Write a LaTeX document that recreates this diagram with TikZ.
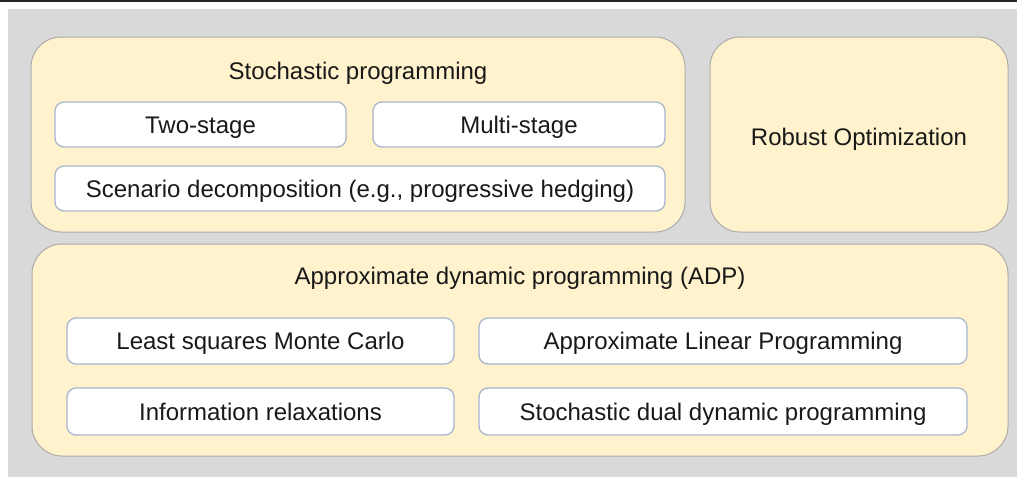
\documentclass[tikz,border=0pt]{standalone}
\usepackage{fontspec}
\setmainfont{Liberation Sans}

\definecolor{panelgray}{HTML}{D9D9D9}
\definecolor{groupfill}{HTML}{FFF2CC}
\definecolor{groupline}{HTML}{ABABAB}
\definecolor{itemline}{HTML}{A8B6CF}

\begin{document}
\begin{tikzpicture}[x = 1pt, y = -1pt,
    group/.style = {draw = groupline, fill = groupfill, line width = 1pt, rounded corners = 30pt, inner sep = 0pt},
    item/.style = {draw = itemline, fill = white, line width = 1.3pt, rounded corners = 9pt, inner sep = 0pt},
    label/.style = {font = \fontsize{24}{28}\selectfont, text = black!90, text height = 17.2pt, text depth = 0pt}]

    \useasboundingbox (0, 0) rectangle (1017, 477);
    \fill[panelgray] (8, 9) rectangle (1017, 477);
    \draw[line width = 1.5pt, black!85] (0, 0.8) -- (1017, 0.8);

    % outer groups
    \node[group, minimum width = 654, minimum height = 195] (sp) at (358, 134.5) {};
    \node[group, minimum width = 298, minimum height = 195] (ro) at (859, 134.5) {};
    \node[group, minimum width = 976, minimum height = 212] (adp) at (520, 350) {};

    \node[label] (sptitle) at (358, 71) {Stochastic programming};
    \node[label] (rotitle) at (859, 136.5) {Robust Optimization};
    \node[label] (adptitle) at (520, 276) {Approximate dynamic programming (ADP)};

    % methods
    \node[item, label, minimum width = 291, minimum height = 45] (two) at (200.5, 124.5) {Two-stage};
    \node[item, label, minimum width = 292, minimum height = 45] (multi) at (519, 124.5) {Multi-stage};
    \node[item, label, minimum width = 610, minimum height = 45] (scen) at (360, 188.5) {Scenario decomposition (e.g., progressive hedging)};

    \node[item, label, minimum width = 387, minimum height = 46] (lsmc) at (260.5, 341) {Least squares Monte Carlo};
    \node[item, label, minimum width = 488, minimum height = 46] (alp) at (723, 341) {Approximate Linear Programming};
    \node[item, label, minimum width = 387, minimum height = 47] (info) at (260.5, 411.5) {Information relaxations};
    \node[item, label, minimum width = 488, minimum height = 47] (sddp) at (723, 411.5) {Stochastic dual dynamic programming};
\end{tikzpicture}
\end{document}
